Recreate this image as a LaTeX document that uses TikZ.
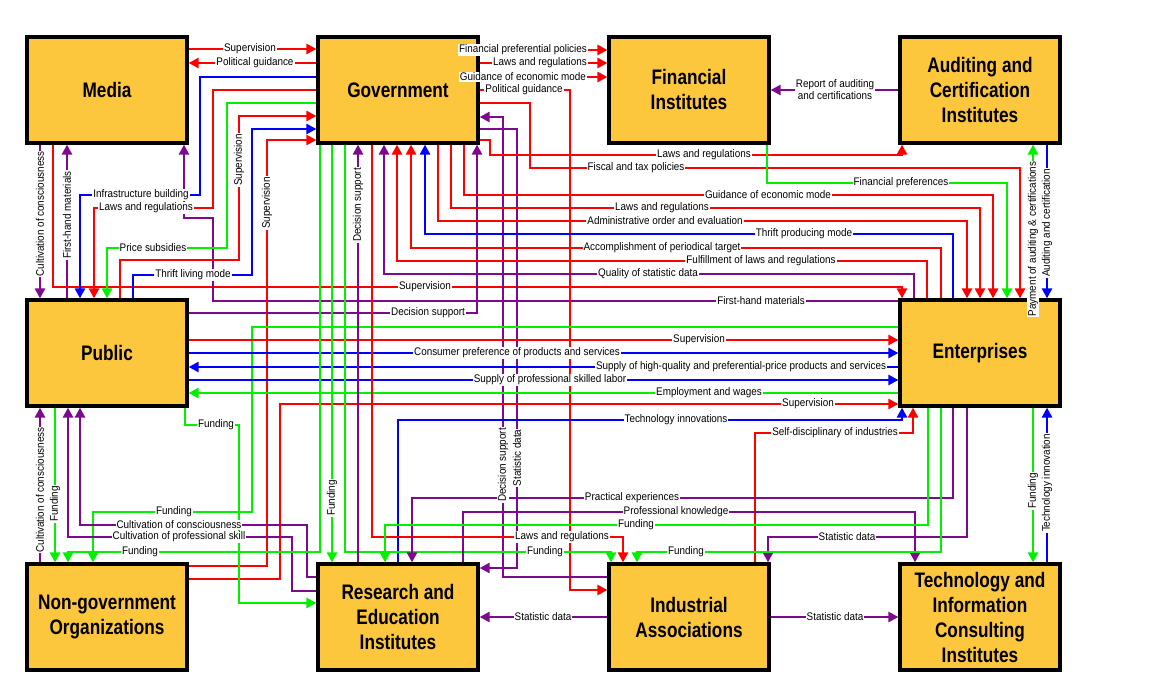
\documentclass[tikz,border=0pt]{standalone}
\usepackage{fontspec}
\setmainfont{Liberation Sans}
\newfontfamily\boxfont{Liberation Sans}[FakeStretch=0.82]
\newfontfamily\tagfont{Liberation Sans}[FakeStretch=0.9]
\usetikzlibrary{arrows.meta}
\definecolor{boxfill}{RGB}{252,199,61}
\definecolor{cR}{RGB}{255,0,0}
\definecolor{cB}{RGB}{0,0,255}
\definecolor{cG}{RGB}{0,240,0}
\definecolor{cP}{RGB}{125,10,140}
\tikzset{
  box/.style={draw=black, fill=boxfill, line width=1.6pt, minimum width=80pt, minimum height=53pt, inner sep=1pt, align=center, font=\boxfont\bfseries\fontsize{10.5pt}{12.5pt}\selectfont},
  link/.style={line width=1.4pt, -{Triangle[length=5pt,width=5pt]}},
  tag/.style={fill=white, inner sep=0.5pt, align=center, font=\tagfont\fontsize{5.5pt}{6pt}\selectfont},
  vtag/.style={tag, rotate=90},
}

\begin{document}
\begin{tikzpicture}[x=0.5pt,y=-0.5pt]
\useasboundingbox (0,0) rectangle (1150,683);

\node[box] (media) at (107,90) {Media};
\node[box] (gov) at (398,90) {Government};
\node[box] (fin) at (689,90) {Financial\\Institutes};
\node[box] (aud) at (980,90) {Auditing and\\Certification\\Institutes};
\node[box] (pub) at (107,353) {Public};
\node[box] (ent) at (980,353) {Enterprises};
\node[box] (ngo) at (107,617) {Non-government\\Organizations};
\node[box] (res) at (398,617) {Research and\\Education\\Institutes};
\node[box] (ind) at (689,617) {Industrial\\Associations};
\node[box] (tech) at (980,617) {Technology and\\Information\\Consulting\\Institutes};

% media and government
\draw[link,cR] (media.east |- 0,49) -- (gov.west |- 0,49);
\draw[link,cR] (gov.west |- 0,63) -- (media.east |- 0,63);
\draw[link,cP] (40,0 |- media.south) -- (40,0 |- pub.north);
\draw[link,cP] (67,0 |- pub.north) -- (67,0 |- media.south);
\draw[link,cR] (53,0 |- media.south) -- (53,287) -- (902,287) -- (902,0 |- ent.north);
\draw[link,cP] (ent.west |- 0,301) -- (213,301) -- (213,218) -- (184,218) -- (184,0 |- media.south);

% government left side and public
\draw[link,cB] (gov.west |- 0,77) -- (200,77) -- (200,195) -- (80,195) -- (80,0 |- pub.north);
\draw[link,cR] (gov.west |- 0,90) -- (213,90) -- (213,208) -- (94,208) -- (94,0 |- pub.north);
\draw[link,cG] (gov.west |- 0,103) -- (227,103) -- (227,248) -- (107,248) -- (107,0 |- pub.north);
\draw[link,cR] (120,0 |- pub.north) -- (120,260) -- (239,260) -- (239,116) -- (gov.west |- 0,116);
\draw[link,cB] (133,0 |- pub.north) -- (133,275) -- (252,275) -- (252,129) -- (gov.west |- 0,129);
\draw[link,cR] (ngo.east |- 0,566) -- (267,566) -- (267,140) -- (gov.west |- 0,140);
\draw[link,cP] (pub.east |- 0,313) -- (477,313) -- (477,0 |- gov.south);

% government right side
\draw[link,cR] (gov.east |- 0,50) -- (fin.west |- 0,50);
\draw[link,cR] (gov.east |- 0,63) -- (fin.west |- 0,63);
\draw[link,cR] (gov.east |- 0,77) -- (fin.west |- 0,77);
\draw[link,cR] (gov.east |- 0,90) -- (570,90) -- (570,590) -- (ind.west |- 0,590);
\draw[link,cR] (gov.east |- 0,103) -- (530,103) -- (530,168) -- (1020,168) -- (1020,0 |- ent.north);
\draw[link,cP] (ind.west |- 0,577) -- (503,577) -- (503,117) -- (gov.east |- 0,117);
\draw[link,cP] (gov.east |- 0,129) -- (517,129) -- (517,568) -- (res.east |- 0,568);
\draw[link,cR] (gov.east |- 0,140) -- (490,140) -- (490,155) -- (902,155) -- (902,0 |- aud.south);
\draw[link,cP] (aud.west |- 0,90) -- (fin.east |- 0,90);
\draw[link,cG] (767,0 |- fin.south) -- (767,183) -- (1007,183) -- (1007,0 |- ent.north);
\draw[link,cG] (1033,0 |- ent.north) -- (1033,0 |- aud.south);
\draw[link,cB] (1047,0 |- aud.south) -- (1047,0 |- ent.north);

% government bottom and enterprises
\draw[link,cR] (464,0 |- gov.south) -- (464,195) -- (993,195) -- (993,0 |- ent.north);
\draw[link,cR] (451,0 |- gov.south) -- (451,208) -- (980,208) -- (980,0 |- ent.north);
\draw[link,cR] (438,0 |- gov.south) -- (438,221) -- (967,221) -- (967,0 |- ent.north);
\draw[link,cB] (953,0 |- ent.north) -- (953,234) -- (425,234) -- (425,0 |- gov.south);
\draw[link,cR] (941,0 |- ent.north) -- (941,248) -- (411,248) -- (411,0 |- gov.south);
\draw[link,cR] (927,0 |- ent.north) -- (927,261) -- (397,261) -- (397,0 |- gov.south);
\draw[link,cP] (914,0 |- ent.north) -- (914,274) -- (384,274) -- (384,0 |- gov.south);

% public and enterprises
\draw[link,cG] (ent.west |- 0,327) -- (252,327) -- (252,512) -- (93,512) -- (93,0 |- ngo.north);
\draw[link,cR] (pub.east |- 0,340) -- (ent.west |- 0,340);
\draw[link,cB] (pub.east |- 0,353) -- (ent.west |- 0,353);
\draw[link,cB] (ent.west |- 0,367) -- (pub.east |- 0,367);
\draw[link,cB] (pub.east |- 0,380) -- (ent.west |- 0,380);
\draw[link,cG] (ent.west |- 0,393) -- (pub.east |- 0,393);
\draw[link,cR] (ngo.east |- 0,579) -- (280,579) -- (280,404) -- (ent.west |- 0,404);
\draw[link,cB] (398,0 |- res.north) -- (398,420) -- (902,420) -- (902,0 |- ent.south);

% public, ngo and research
\draw[link,cG] (185,0 |- pub.south) -- (185,425) -- (239,425) -- (239,603) -- (res.west |- 0,603);
\draw[link,cP] (40,0 |- ngo.north) -- (40,0 |- pub.south);
\draw[link,cG] (55,0 |- pub.south) -- (55,0 |- ngo.north);
\draw[link,cP] (res.west |- 0,577) -- (307,577) -- (307,525) -- (80,525) -- (80,0 |- pub.south);
\draw[link,cP] (res.west |- 0,591) -- (292,591) -- (292,537) -- (68,537) -- (68,0 |- pub.south);
\draw[link,cG] (320,0 |- gov.south) -- (320,552) -- (68,552) -- (68,0 |- ngo.north);
\draw[link,cG] (332,0 |- gov.south) -- (332,0 |- res.north);
\draw[link,cG] (345,0 |- gov.south) -- (345,552) -- (611,552) -- (611,0 |- ind.north);
\draw[link,cP] (358,0 |- res.north) -- (358,0 |- gov.south);
\draw[link,cR] (372,0 |- gov.south) -- (372,537) -- (623,537) -- (623,0 |- ind.north);

% enterprises bottom
\draw[link,cR] (755,0 |- ind.north) -- (755,433) -- (913,433) -- (913,0 |- ent.south);
\draw[link,cP] (953,0 |- ent.south) -- (953,498) -- (412,498) -- (412,0 |- res.north);
\draw[link,cP] (463,0 |- res.north) -- (463,512) -- (915,512) -- (915,0 |- tech.north);
\draw[link,cG] (928,0 |- ent.south) -- (928,525) -- (385,525) -- (385,0 |- res.north);
\draw[link,cP] (967,0 |- ent.south) -- (967,537) -- (768,537) -- (768,0 |- ind.north);
\draw[link,cG] (941,0 |- ent.south) -- (941,552) -- (637,552) -- (637,0 |- ind.north);
\draw[link,cG] (1033,0 |- ent.south) -- (1033,0 |- tech.north);
\draw[link,cB] (1047,0 |- tech.north) -- (1047,0 |- ent.south);

% bottom row
\draw[link,cP] (ind.west |- 0,617) -- (res.east |- 0,617);
\draw[link,cP] (ind.east |- 0,617) -- (tech.west |- 0,617);

% labels
\node[tag] (t1) at (250,49) {Supervision};
\node[tag] (t2) at (255,63) {Political guidance};
\node[tag] (t3) at (141,195) {Infrastructure building};
\node[tag] (t4) at (146,208) {Laws and regulations};
\node[tag] (t5) at (153,248) {Price subsidies};
\node[vtag] (t6) at (239,160) {Supervision};
\node[tag] (t7) at (193,275) {Thrift living mode};
\node[vtag] (t8) at (267,203) {Supervision};
\node[vtag] (t9) at (40,214) {Cultivation of consciousness};
\node[vtag] (t10) at (67,215) {First-hand materials};
\node[tag] (t11) at (425,287) {Supervision};
\node[tag] (t12) at (761,301) {First-hand materials};
\node[tag] (t13) at (428,313) {Decision support};
\node[tag] (t14) at (523,50) {Financial preferential policies};
\node[tag] (t15) at (540,63) {Laws and regulations};
\node[tag] (t16) at (523,77) {Guidance of economic mode};
\node[tag] (t17) at (524,90) {Political guidance};
\node[tag] (t18) at (835,90) {Report of auditing\\and certifications};
\node[tag] (t19) at (704,155) {Laws and regulations};
\node[tag] (t20) at (636,168) {Fiscal and tax policies};
\node[tag] (t21) at (901,183) {Financial preferences};
\node[tag] (t22) at (768,195) {Guidance of economic mode};
\node[tag] (t23) at (662,208) {Laws and regulations};
\node[tag] (t24) at (665,221) {Administrative order and evaluation};
\node[tag] (t25) at (804,234) {Thrift producing mode};
\node[tag] (t26) at (662,248) {Accomplishment of periodical target};
\node[tag] (t27) at (761,261) {Fulfillment of laws and regulations};
\node[tag] (t28) at (648,274) {Quality of statistic data};
\node[vtag] (t29) at (1033,239) {Payment of auditing \& certifications};
\node[vtag] (t30) at (1047,223) {Auditing and certification};
\node[vtag] (t31) at (358,205) {Decision support};
\node[tag] (t32) at (699,340) {Supervision};
\node[tag] (t33) at (517,353) {Consumer preference of products and services};
\node[tag] (t34) at (741,367) {Supply of high-quality and preferential-price products and services};
\node[tag] (t35) at (550,380) {Supply of professional skilled labor};
\node[tag] (t36) at (709,393) {Employment and wages};
\node[tag] (t37) at (808,404) {Supervision};
\node[tag] (t38) at (676,420) {Technology innovations};
\node[tag] (t39) at (835,433) {Self-disciplinary of industries};
\node[tag] (t40) at (216,425) {Funding};
\node[vtag] (t41) at (40,490) {Cultivation of consciousness};
\node[vtag] (t42) at (55,504) {Funding};
\node[tag] (t43) at (174,512) {Funding};
\node[tag] (t44) at (179,525) {Cultivation of consciousness};
\node[tag] (t45) at (179,537) {Cultivation of professional skill};
\node[tag] (t46) at (140,552) {Funding};
\node[vtag] (t47) at (332,498) {Funding};
\node[vtag] (t48) at (503,465) {Decision support};
\node[vtag] (t49) at (517,458) {Statistic data};
\node[tag] (t50) at (632,498) {Practical experiences};
\node[tag] (t51) at (676,512) {Professional knowledge};
\node[tag] (t52) at (636,525) {Funding};
\node[tag] (t53) at (562,537) {Laws and regulations};
\node[tag] (t54) at (545,552) {Funding};
\node[tag] (t55) at (686,552) {Funding};
\node[tag] (t56) at (847,537) {Statistic data};
\node[vtag] (t57) at (1033,491) {Funding};
\node[vtag] (t58) at (1047,483) {Technology innovation};
\node[tag] (t59) at (543,617) {Statistic data};
\node[tag] (t60) at (835,617) {Statistic data};
\end{tikzpicture}
\end{document}
